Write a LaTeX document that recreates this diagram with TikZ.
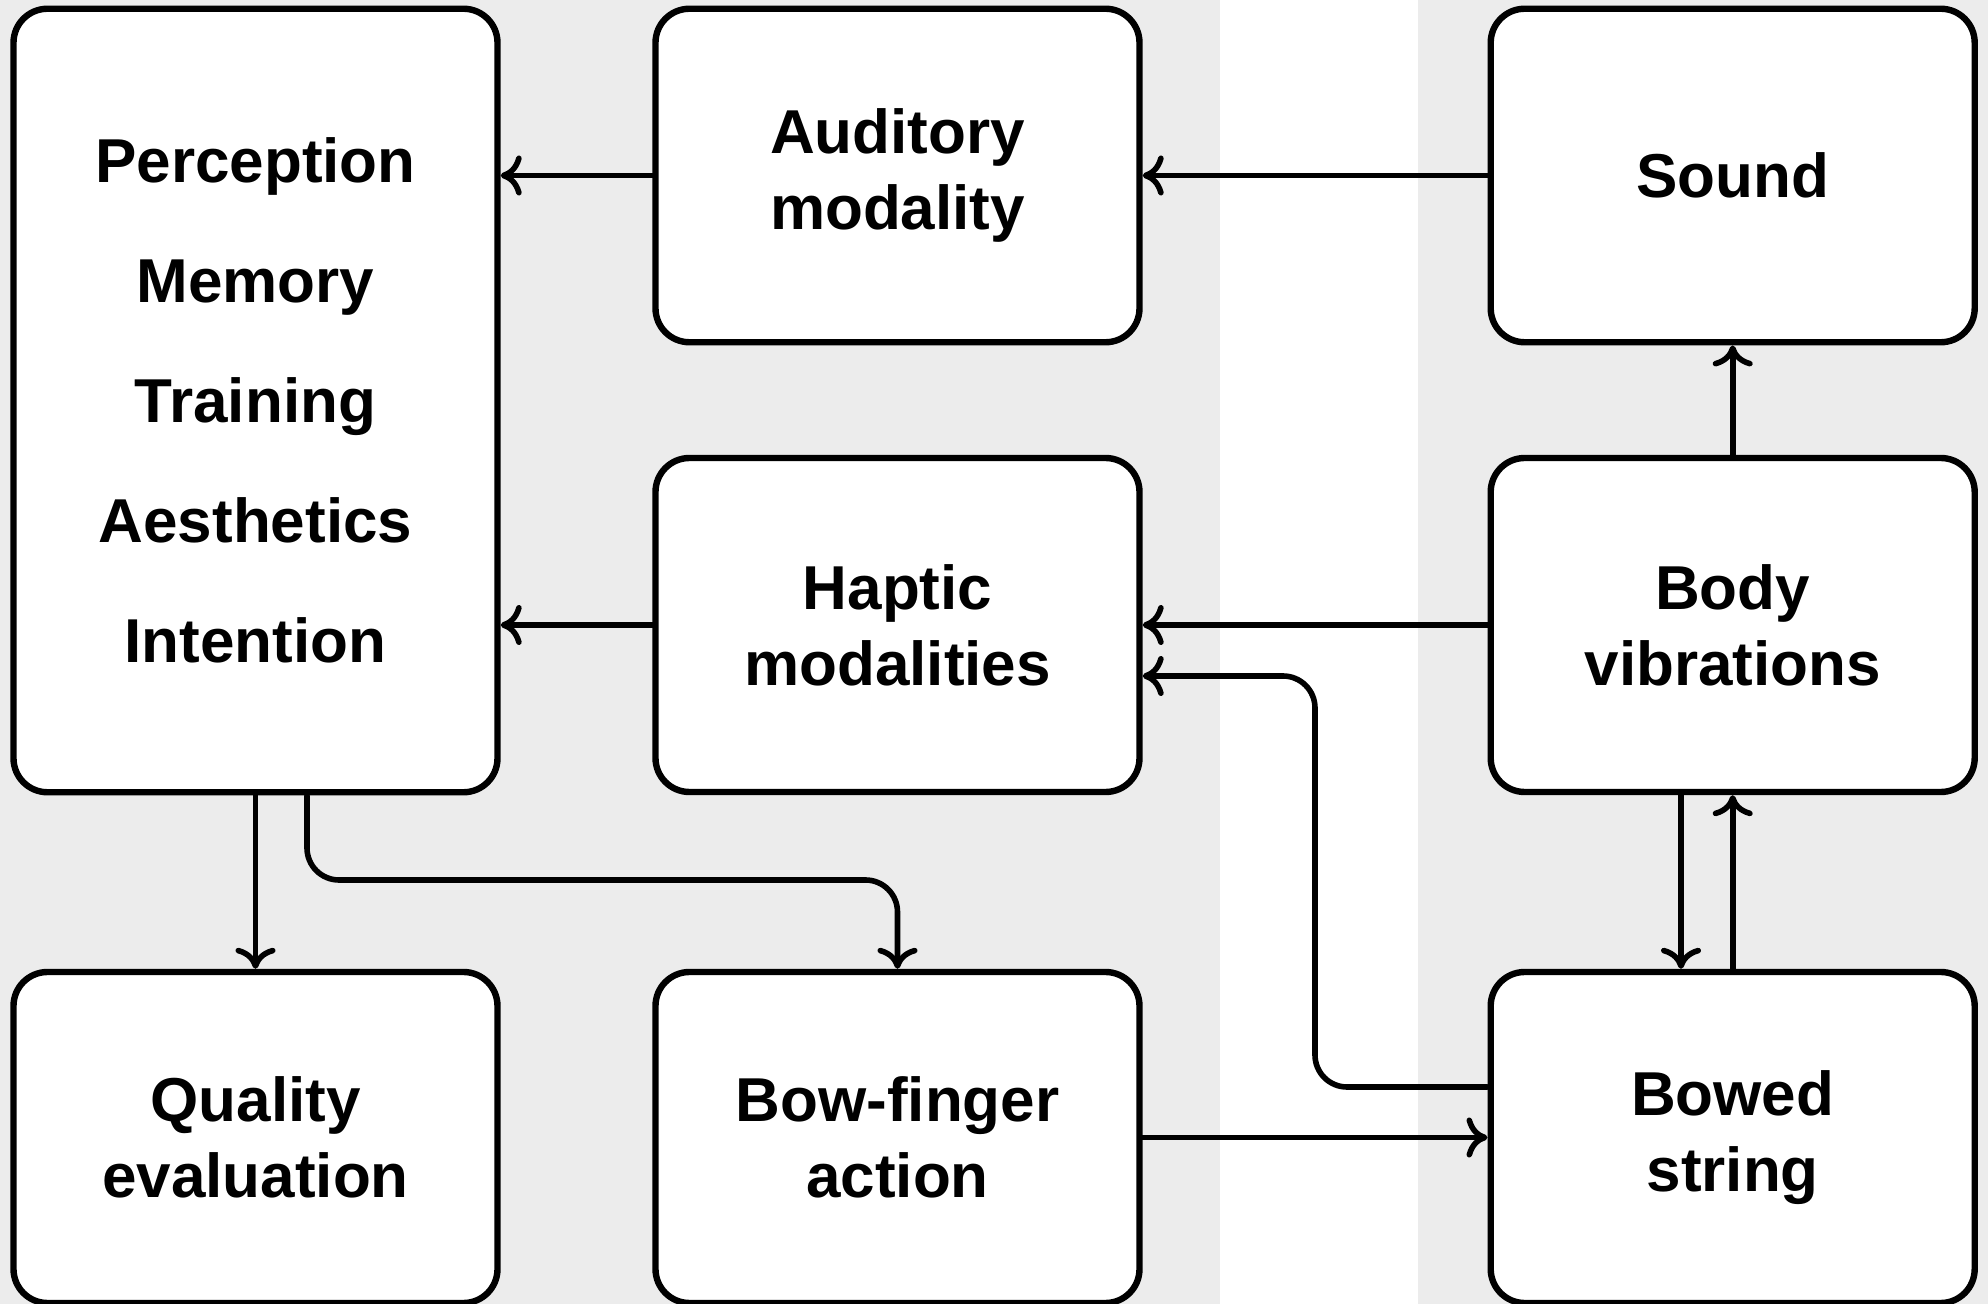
\documentclass[tikz,border=0pt]{standalone}
\usepackage{fontspec}
\setmainfont{Liberation Sans}
\usetikzlibrary{arrows.meta}
\definecolor{bggray}{RGB}{236,236,236}
\tikzset{
  box/.style={draw=black, fill=white, line width=3.2pt, rounded corners=17pt,
    minimum width=242pt, align=center, inner sep=0pt,
    font=\bfseries\fontsize{31}{38}\selectfont},
  conn/.style={draw=black, line width=2.8pt, line cap=round,
    -{To[length=10.5pt,width=20pt]}},
}
\begin{document}
\begin{tikzpicture}[x=0.5pt,y=-0.5pt]
\useasboundingbox (0,0) rectangle (1988,1304);
\fill[bggray] (0,0) rectangle (1988,1304);
\fill[white] (1220,0) rectangle (1418,1304);

\node[box, minimum height=391.75pt, font=\bfseries\fontsize{31}{60}\selectfont] (left) at (255.5,400.5)
  {Perception\\Memory\\Training\\Aesthetics\\Intention};
\node[box, minimum height=166.75pt] (aud) at (897.5,175.5) {Auditory\\modality};
\node[box, minimum height=166.75pt] (sound) at (1732.7,175.5) {Sound};
\node[box, minimum height=167pt] (hap) at (897.5,625) {Haptic\\modalities};
\node[box, minimum height=167pt] (body) at (1732.7,625) {Body\\vibrations};
\node[box, minimum height=165.5pt] (qual) at (255.5,1137.5) {Quality\\evaluation};
\node[box, minimum height=165.5pt] (bow) at (897.5,1137.5) {Bow-finger\\action};
\node[box, minimum height=165.5pt] (bowed) at (1732.7,1137.5) {Bowed\\string};

\draw[conn] (sound.west) -- (aud.east);
\draw[conn] (aud.west) -- (aud.west -| left.east);
\draw[conn] (body.west) -- (hap.east);
\draw[conn] (hap.west) -- (hap.west -| left.east);
\draw[conn, rounded corners=16pt] (bowed.west |- 0,1087) -- (1315,1087) -- (1315,676) -- (hap.east |- 0,676);
\draw[conn] (bow.east) -- (bowed.west);
\draw[conn] (body.north) -- (sound.south);
\draw[conn] (body.south -| 1681,0) -- (bowed.north -| 1681,0);
\draw[conn] (bowed.north) -- (body.south);
\draw[conn] (left.south) -- (qual.north);
\draw[conn, rounded corners=16pt] (left.south -| 307,0) -- (307,880) -- (bow.north |- 0,880) -- (bow.north);
\end{tikzpicture}
\end{document}
